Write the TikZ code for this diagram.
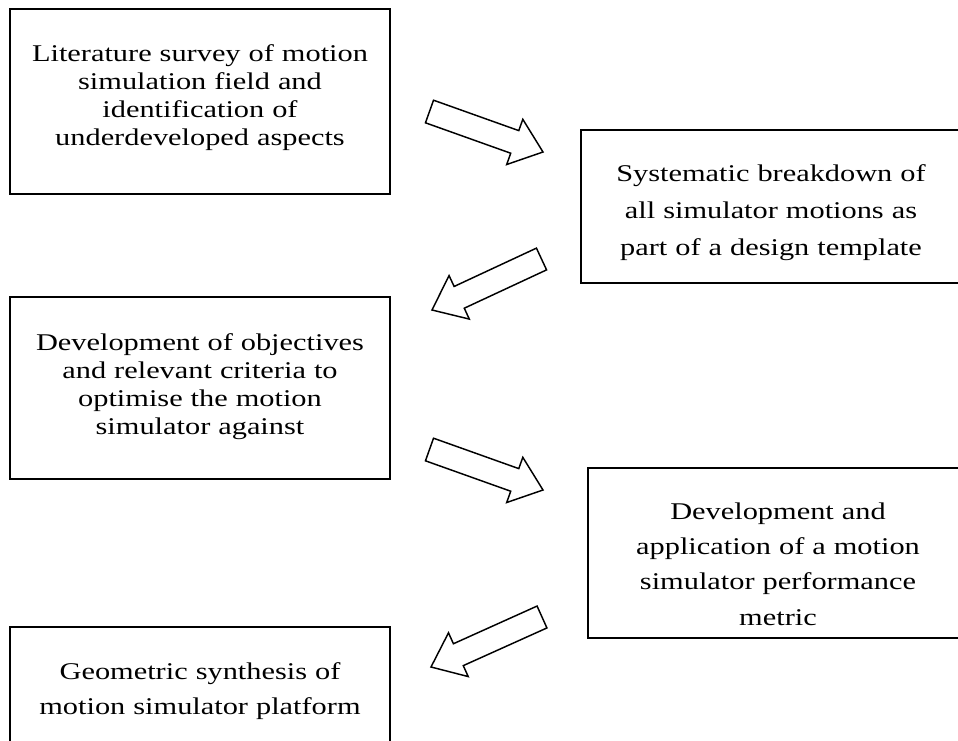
\documentclass[tikz,border=0pt]{standalone}
\usepackage{fontspec}
\setmainfont{Liberation Serif}[FakeStretch=1.265]
\usetikzlibrary{calc,positioning}
\tikzstyle{stage}=[draw,line width=1.1pt,text width=285pt,inner sep=0pt,text height=0pt,
                align=center,font=\fontsize{18}{21}\selectfont]
\tikzstyle{loose}=[font=\fontsize{18}{26.5}\selectfont]
\tikzstyle{fatarrow}=[draw,line width=1.1pt,fill=white,line join=miter]

\begin{document}
\begin{tikzpicture}[x=0.75pt,y=-0.75pt]
  \useasboundingbox (0,0) rectangle (958,740);
  \node[stage,minimum height=138.75pt,text depth=60pt] (survey) at (200,101.5)
       {Literature survey of motion\\simulation field and\\identification of\\underdeveloped aspects};
  \node[stage,font=\fontsize{18}{27.75}\selectfont,minimum height=114.75pt,text depth=37pt]
       (breakdown) at (771,206.5)
       {Systematic breakdown of\\all simulator motions as\\part of a design template};
  \node[stage,minimum height=136.5pt,text depth=56.5pt] (objectives) at (200,388)
       {Development of objectives\\and relevant criteria to\\optimise the motion\\simulator against};
  \node[stage,loose,minimum height=127.5pt,text depth=51pt] (metric) at (778,553)
       {Development and\\application of a motion\\simulator performance\\metric};
  \node[stage,loose,minimum height=93pt,text depth=15pt] (synthesis) at (200,689)
       {Geometric synthesis of\\motion simulator platform};

  % block arrows: tail -> tip
  \coordinate (t1) at (429.5,111.5); \coordinate (h1) at (543,152);
  \coordinate (t2) at (541.5,259);   \coordinate (h2) at (432,310);
  \coordinate (t3) at (429.5,449.5); \coordinate (h3) at (543,490);
  \coordinate (t4) at (542,617);     \coordinate (h4) at (431,667);
  \foreach \i in {1,...,4}{
    \coordinate (n\i) at ($(h\i)!22.5pt!(t\i)$);
    \draw[fatarrow] ($(t\i)!9pt!90:(h\i)$) -- ($(n\i)!9pt!90:(h\i)$)
      -- ($(n\i)!18pt!90:(h\i)$) -- (h\i) -- ($(n\i)!18pt!-90:(h\i)$)
      -- ($(n\i)!9pt!-90:(h\i)$) -- ($(t\i)!9pt!-90:(h\i)$) -- cycle;
  }
\end{tikzpicture}
\end{document}
